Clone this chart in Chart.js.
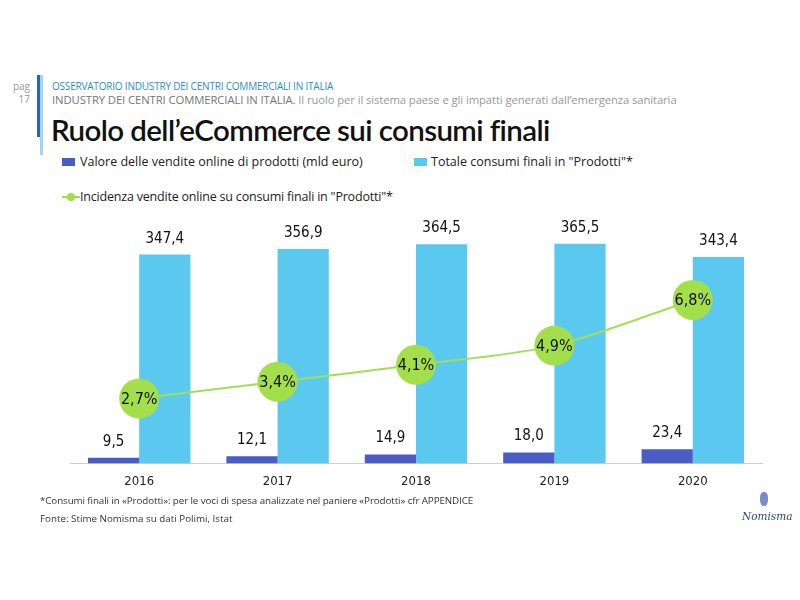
<!DOCTYPE html>
<html>
<head>
<meta charset="utf-8">
<script src="https://cdn.jsdelivr.net/npm/chart.js@4.4.1/dist/chart.umd.min.js"></script>
<style>
  body { margin: 0; background: #fff; font-family: 'Open Sans', 'DejaVu Sans', sans-serif; }
  #page { position: relative; width: 800px; height: 600px; overflow: hidden; }
  .abs { position: absolute; white-space: nowrap; }
  #pag { left: 8px; top: 80px; font-size: 10px; color: #999; text-align: right; width: 22px; line-height: 13px; }
  #barDark { left: 37px; top: 75px; width: 3px; height: 62px; background: #2b67b0; }
  #barLight { left: 40px; top: 75px; width: 3px; height: 80px; background: #9fd6f0; }
  #obs { left: 52px; top: 79px; font-size: 10px; color: #2a8fc8; letter-spacing: -0.2px; }
  #sub { left: 52px; top: 92px; font-size: 11.3px; color: #999; letter-spacing: -0.1px; }
  #sub b { font-weight: normal; color: #777; }
  #title { left: 51px; top: 112px; font-family: Lato, sans-serif; font-size: 29.5px; color: #111; font-weight: 600; letter-spacing: -0.6px; }
  .leg { font-size: 12.5px; color: #222; }
  .sq { position: absolute; width: 13px; height: 8px; }
  #footer1 { left: 40px; top: 494px; font-size: 9.8px; color: #333; letter-spacing: -0.1px; }
  #footer2 { left: 40px; top: 512px; font-size: 9.8px; color: #333; }
  #logo { left: 742px; top: 510px; font-size: 10.5px; color: #34468a; font-family: 'DejaVu Serif', serif; font-style: italic; }
  #emblem { left: 760px; top: 492px; width: 8px; height: 14px; border-radius: 40% 40% 45% 45%; background: #5b6fb0; opacity: 0.8; }
  #chartBox { position: absolute; left: 60px; top: 200px; width: 712px; height: 300px; }
</style>
</head>
<body>
<div id="page">
  <div class="abs" id="pag">pag<br>17</div>
  <div class="abs" id="barDark"></div>
  <div class="abs" id="barLight"></div>
  <div class="abs" id="obs">OSSERVATORIO INDUSTRY DEI CENTRI COMMERCIALI IN ITALIA</div>
  <div class="abs" id="sub"><b>INDUSTRY DEI CENTRI COMMERCIALI IN ITALIA.</b> Il ruolo per il sistema paese e gli impatti generati dall’emergenza sanitaria</div>
  <div class="abs" id="title">Ruolo dell’eCommerce sui consumi finali</div>

  <div class="sq" style="left:62px; top:158px; background:#4a5cc6;"></div>
  <div class="abs leg" style="left:80px; top:153px;">Valore delle vendite online di prodotti (mld euro)</div>
  <div class="sq" style="left:414px; top:158px; background:#5bc8f0;"></div>
  <div class="abs leg" style="left:431px; top:153px;">Totale consumi finali in "Prodotti"*</div>
  <div class="abs" style="left:62px; top:196px; width:18px; height:2px; background:#9fdf4f;"></div>
  <div class="abs" style="left:67px; top:193px; width:8px; height:8px; border-radius:50%; background:#9fdf4f;"></div>
  <div class="abs leg" style="left:80px; top:188px; letter-spacing:-0.2px;">Incidenza vendite online su consumi finali in "Prodotti"*</div>

  <div id="chartBox"><canvas id="chart"></canvas></div>

  <div class="abs" id="footer1">*Consumi finali in «Prodotti»: per le voci di spesa analizzate nel paniere «Prodotti» cfr APPENDICE</div>
  <div class="abs" id="footer2">Fonte: Stime Nomisma su dati Polimi, Istat</div>
  <div class="abs" id="emblem"></div>
  <div class="abs" id="logo">Nomisma</div>
</div>

<script>
const years = ['2016', '2017', '2018', '2019', '2020'];
const onlineSales = [9.5, 12.1, 14.9, 18.0, 23.4];
const totalConsumption = [347.4, 356.9, 364.5, 365.5, 343.4];
const onlineShare = [2.7, 3.4, 4.1, 4.9, 6.8];

const labelFont = "'Liberation Sans Narrow', 'DejaVu Sans Condensed', sans-serif";

function itNumber(v) {
    return v.toFixed(1).replace('.', ',');
}

const valueLabels = {
    id: 'valueLabels',
    afterDatasetsDraw(chart) {
        const ctx = chart.ctx;
        ctx.save();
        ctx.textAlign = 'center';
        ctx.textBaseline = 'middle';
        ctx.fillStyle = '#111';
        chart.data.datasets.forEach((ds, i) => {
            const meta = chart.getDatasetMeta(i);
            meta.data.forEach((el, j) => {
                if (ds.type === 'line') {
                    ctx.font = '16px ' + labelFont;
                    ctx.fillText(itNumber(ds.data[j]) + '%', el.x, el.y + 1);
                } else {
                    ctx.font = '15px ' + labelFont;
                    ctx.fillText(itNumber(ds.data[j]), el.x, el.y - 16);
                }
            });
        });
        ctx.restore();
    }
};

new Chart(document.getElementById('chart'), {
    type: 'bar',
    data: {
        labels: years,
        datasets: [
            {
                type: 'line',
                label: 'Incidenza vendite online su consumi finali in "Prodotti"*',
                data: onlineShare,
                yAxisID: 'y2',
                borderColor: '#a3df55',
                borderWidth: 2,
                backgroundColor: '#a3df4a',
                pointBackgroundColor: '#a3df4a',
                pointBorderWidth: 0,
                pointRadius: 20,
                pointHoverRadius: 20,
                tension: 0.3,
                clip: false,
                order: 0
            },
            {
                label: 'Valore delle vendite online di prodotti (mld euro)',
                data: onlineSales,
                backgroundColor: '#4a5cc6',
                order: 1
            },
            {
                label: 'Totale consumi finali in "Prodotti"*',
                data: totalConsumption,
                backgroundColor: '#5bc8f0',
                order: 1
            }
        ]
    },
    options: {
        responsive: true,
        maintainAspectRatio: false,
        animation: false,
        layout: { autoPadding: false, padding: { left: 10, right: 10, top: 23, bottom: 1 } },
        datasets: {
            bar: { categoryPercentage: 0.74, barPercentage: 1.0 }
        },
        plugins: {
            legend: { display: false },
            tooltip: { enabled: false }
        },
        scales: {
            x: {
                grid: { display: false, drawTicks: false },
                border: { display: true, color: '#cfcfcf', width: 1 },
                ticks: { padding: 10, color: '#222', font: { family: labelFont, size: 13 } }
            },
            y: { display: false, min: 0, max: 400 },
            y2: { display: false, min: 0, max: 10, position: 'right' }
        }
    },
    plugins: [valueLabels]
});
</script>
</body>
</html>
